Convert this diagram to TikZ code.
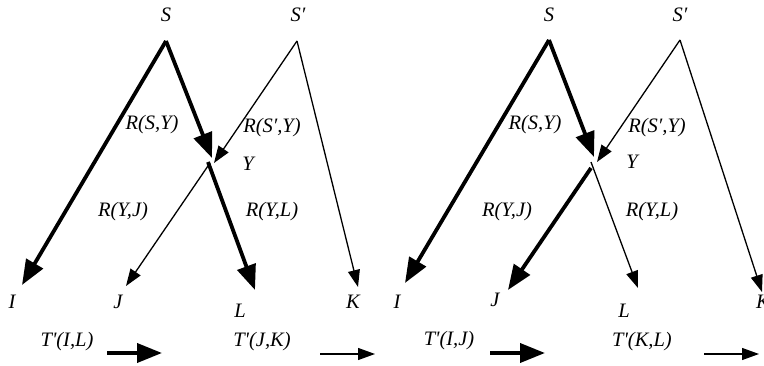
\documentclass[tikz,border=0pt]{standalone}
\usepackage{fontspec}
\setmainfont{Liberation Serif}
\usetikzlibrary{arrows.meta}
\tikzset{
  lbl/.style={font=\fontsize{20.5}{24}\selectfont\itshape, inner sep=0pt, anchor=center},
  thk/.style={line width=3.8pt, -{Triangle[length=25pt,width=19pt]}},
  thn/.style={line width=1.3pt, -{Triangle[length=17pt,width=12pt]}},
}
\newcommand{\tq}{\textquotesingle}
\begin{document}
\begin{tikzpicture}[x=1pt,y=-1pt]
\useasboundingbox (0,0) rectangle (764,366);
% ---------- left diagram ----------
\node[lbl] (lS) at (166,15) {S};
\node[lbl] (lSp) at (298,15) {S′};
\node[lbl] (lRSY) at (152,125) {R(S,Y)};
\node[lbl] (lRSpY) at (272,128) {R(S′,Y)};
\node[lbl] (lY) at (248,164) {Y};
\node[lbl] (lRYJ) at (123,212) {R(Y,J)};
\node[lbl] (lRYL) at (272,212) {R(Y,L)};
\node[lbl] (lI) at (12,302) {I};
\node[lbl] (lJ) at (118,302) {J};
\node[lbl] (lL) at (240,311) {L};
\node[lbl] (lK) at (353,302) {K};
\node[lbl] (lT1) at (67,342) {T\tq(I,L)};
\node[lbl] (lT2) at (262,342) {T\tq(J,K)};
\coordinate (lSa) at (166,41);
\coordinate (lSpa) at (297,41);
\coordinate (lIt) at (22,285);
\coordinate (lY1) at (212,158);
\coordinate (lY2) at (214,163);
\coordinate (lYL) at (208,162);
\coordinate (lYJ) at (210,163);
\coordinate (lLt) at (255,290);
\coordinate (lJt) at (126,286);
\coordinate (lKt) at (358,287);
\coordinate (lA1s) at (107,353);
\coordinate (lA1e) at (162,353);
\coordinate (lA2s) at (320,354);
\coordinate (lA2e) at (375,354);
\draw[thk] (lSa) -- (lIt);
\draw[thk] (lSa) -- (lY1);
\draw[thn] (lSpa) -- (lY2);
\draw[thn] (lSpa) -- (lKt);
\draw[thk] (lYL) -- (lLt);
\draw[thn] (lYJ) -- (lJt);
\draw[thk] (lA1s) -- (lA1e);
\draw[thn] (lA2s) -- (lA2e);
% ---------- right diagram ----------
\node[lbl] (rS) at (549,15) {S};
\node[lbl] (rSp) at (680,15) {S′};
\node[lbl] (rRSY) at (535,125) {R(S,Y)};
\node[lbl] (rRSpY) at (657,128) {R(S′,Y)};
\node[lbl] (rY) at (632,162) {Y};
\node[lbl] (rRYJ) at (507,212) {R(Y,J)};
\node[lbl] (rRYL) at (652,212) {R(Y,L)};
\node[lbl] (rI) at (397,302) {I};
\node[lbl] (rJ) at (495,300) {J};
\node[lbl] (rL) at (624,311) {L};
\node[lbl] (rK) at (763,302) {K};
\node[lbl] (rT1) at (449,341) {T\tq(I,J)};
\node[lbl] (rT2) at (642,342) {T\tq(K,L)};
\coordinate (rSa) at (549,40);
\coordinate (rSpa) at (680,40);
\coordinate (rIt) at (405,283);
\coordinate (rY1) at (594,157);
\coordinate (rY2) at (597,162);
\coordinate (rYL) at (591,162);
\coordinate (rYJ) at (591,168);
\coordinate (rLt) at (638,288);
\coordinate (rJt) at (508,290);
\coordinate (rKt) at (762,292);
\coordinate (rA1s) at (490,353);
\coordinate (rA1e) at (545,353);
\coordinate (rA2s) at (704,354);
\coordinate (rA2e) at (759,354);
\draw[thk] (rSa) -- (rIt);
\draw[thk] (rSa) -- (rY1);
\draw[thn] (rSpa) -- (rY2);
\draw[thn] (rSpa) -- (rKt);
\draw[thn] (rYL) -- (rLt);
\draw[thk] (rYJ) -- (rJt);
\draw[thk] (rA1s) -- (rA1e);
\draw[thn] (rA2s) -- (rA2e);
\end{tikzpicture}
\end{document}
